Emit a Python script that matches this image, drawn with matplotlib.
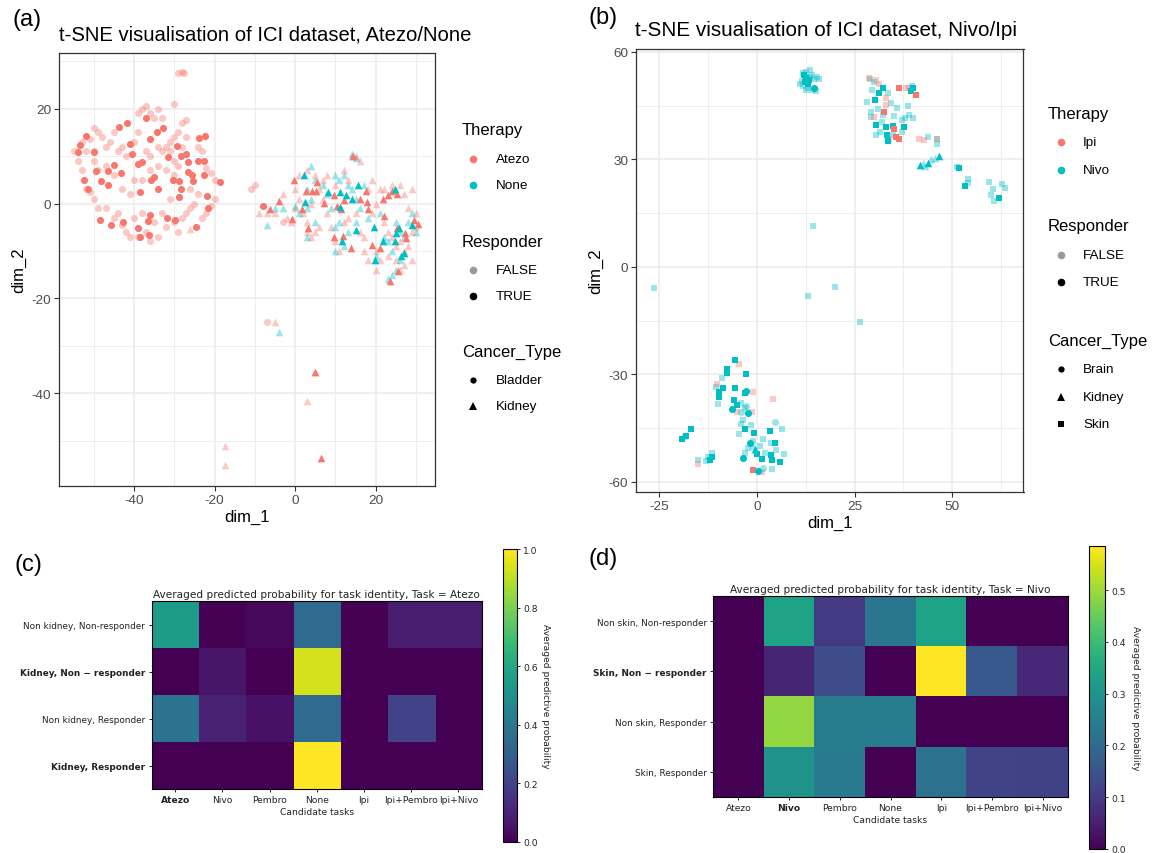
import numpy as np
import matplotlib
matplotlib.use("Agg")
import matplotlib.pyplot as plt
from matplotlib.lines import Line2D

plt.rcParams["axes.unicode_minus"] = False

W, H = 1156, 854
RED = "#F8766D"
CYAN = "#00BFC4"
FADE = 0.4
GG = "Liberation Sans"

# ---------------- panel (a): t-SNE Atezo/None ----------------
a_bladder_atezo_true = [
    (-51.9, 14.3), (-53.3, 12.3), (-53.9, 10.9), (-49.8, 10.9), (-52.4, 4.9), (-51.3, 3.1),
    (-49.4, 6.8), (-48.3, 4.7), (-46.5, 4.0), (-46.5, 6.8), (-44.9, 8.2), (-43.8, 16.1),
    (-41.7, 16.9), (-41.0, 12.5), (-40.5, 10.4), (-38.9, 8.4), (-38.0, 8.7), (-38.4, 2.4),
    (-36.1, 13.6), (-37.1, 18.1), (-35.7, 4.9), (-34.0, 3.0), (-34.3, 15.0), (-32.9, 15.8),
    (-31.6, 9.7), (-30.2, 4.9), (-29.4, 12.2), (-28.3, 10.1), (-27.0, 10.4), (-28.8, 4.7),
    (-28.7, 1.3), (-28.3, 3.0), (-26.5, 6.6), (-25.6, 6.1), (-26.5, 8.7), (-25.4, 4.7),
    (-24.0, 9.0), (-22.6, 9.0), (-23.8, 13.7), (-22.3, 14.3), (-21.9, 1.6), (-21.7, -1.0),
    (-18.7, 4.6), (-22.6, 5.9), (-24.7, -4.9), (-29.7, -3.5), (-31.8, -3.0), (-36.1, -2.5),
    (-36.6, -3.7), (-38.9, -5.2), (-36.3, -6.6), (-38.4, -7.0), (-45.8, -4.5), (-48.5, -3.5),
    (-42.6, -3.8), (-35.0, 5.6), (-43.3, 6.5), (-8.0, -0.5),
]
a_bladder_atezo_false = [
    (-55, 11), (-54, 9), (-53, 13), (-52, 11), (-51, 13.5), (-50, 16), (-49, 15), (-50, 9),
    (-50, 11), (-48, 14), (-47, 12), (-46, 13), (-45, 15), (-44, 11), (-43, 12), (-42, 10),
    (-40, 13), (-39, 19), (-38, 20), (-37, 20.5), (-36, 19), (-35, 18), (-34, 20), (-33, 18),
    (-39, 15), (-37, 11), (-36, 10), (-34, 12), (-33, 11), (-32, 12), (-31, 13), (-30, 14),
    (-29, 15), (-28, 17), (-27, 17.5), (-31, 11), (-30, 9), (-29, 8), (-28, 12), (-27, 14),
    (-24, 12), (-23, 11), (-22, 7.5), (-21, 6.5), (-20, 5), (-20, 1), (-21, -0.5), (-22, -2),
    (-23, -3), (-25, 0), (-26, -1), (-27, -2), (-28, -3), (-30, -4), (-31, 1), (-33, -2),
    (-35, -4), (-37, -6), (-39, -7), (-41, -7), (-42, -6), (-43, -4.5), (-44, -2), (-45, -3),
    (-47, -1), (-49, -1), (-50, 1), (-51, 2.5), (-52, 3), (-53, 7), (-49, 7), (-47, 8),
    (-45, 6), (-43, 3), (-41, 2), (-40, 5), (-38, 5), (-36, 7), (-34, 8), (-32, 7), (-30, 6),
    (-26, 3), (-24, 2), (-40, -3), (-38, -2), (-36, -8), (-34, -7), (-29, 27.5), (-28, 27.6),
    (-27.5, 27.4), (-30, 21), (-11, 3), (-10, 4), (-7, -25), (-3, -4), (-29, -6), (-32, -5),
]
a_kidney_atezo_true = [
    (-0.4, 4.9), (-3.9, 0.5), (-6.3, -1.2), (-0.8, -3.3), (1.7, -1.2), (2.7, 2.6), (4.2, 2.6),
    (5.4, 4.5), (5.1, 2.6), (3.3, -5.2), (7.2, 0.2), (9.7, 1.7), (10.4, -0.5), (11.3, -1.2),
    (12.0, 0.7), (9.7, -7.0), (11.8, -6.8), (13.9, -9.4), (14.3, 10.1), (16.0, 1.0),
    (17.8, 0.3), (18.0, -1.2), (17.5, 2.6), (19.0, -8.7), (21.0, -9.3), (21.7, 1.0),
    (23.0, 1.7), (22.1, -2.6), (24.0, 2.6), (25.3, 2.1), (25.3, -5.2), (27.3, -6.3),
    (29.4, -3.5), (30.4, -4.4), (25.6, -14.3), (23.5, -16.4), (27.6, -7.3), (5.0, -35.5),
    (6.5, -53.5),
]
a_kidney_atezo_false = [
    (-3, 2), (0, 3), (1, 6), (3, 7), (5, 6), (7, 5), (8, 6), (10, 4), (12, 7), (13, 5), (6, 3),
    (4, 0), (2, -2), (0, -1), (-2, -3), (-5, -2), (-7, -2), (3, -4), (5, -6), (3, -6), (8, -2),
    (9, -5), (10, -8), (12, -4), (13, -3), (15, -2), (16, -6), (17, -7), (18, 3), (19, -2),
    (20, 0), (21, 3), (22, -4), (23, -6), (24, -7), (25, -9), (26, -8), (27, -10), (28, -9),
    (29, -12), (27, -13), (25, -12), (23, -11), (21, -12), (20, -10), (26, 4), (27, 2),
    (28, -1), (29, -6), (30, -5), (30, -2), (29, 3), (24, 4), (22, 3), (19, 5), (14, 10),
    (15, 10), (16, 9), (17, -10), (26, -14), (-5, -25), (3, -41.5), (-17.5, -51),
    (-17.5, -55), (5, -35.5), (-26, -5.4), (-9, -2), (20, -14), (18, -12), (11, -10), (7, 1),
    (1, 1), (-1, -4), (4, -7), (6, -5),
]
a_kidney_none_true = [
    (2.2, 5.9), (2.4, 0.3), (8.2, 2.4), (11.1, 2.4), (12.5, 1.7), (14.0, 0.9), (15.5, 3.8),
    (11.1, -0.7), (15.0, -5.6), (11.6, -8.0), (19.8, -12.0), (19.6, -4.9), (21.7, -8.0),
    (24.7, -8.0), (24.7, 3.1), (25.8, -5.2), (26.2, -11.1), (27.1, -10.4), (29.0, -4.5),
    (25.0, -6.3),
]
a_kidney_none_false = [
    (-7, -4.5), (-5, -1), (-3, -1), (0, -0.5), (3, -1), (4, 1), (4, 8), (5, 5), (3, 3),
    (5, -4), (7, 4), (8, 2), (9, -1), (10, 6), (11, 5), (12, 6), (13, 4), (14, 3), (15, 1),
    (10, -5), (11, -4), (10, -10), (12, -9), (13, -6), (15, -4), (16, -1), (17, 4), (18, -3),
    (21, -2), (22, -7), (23, -8), (24, -10), (25, -14), (26, -12), (23, -16), (24, -15),
    (25, -4), (26, -6), (28, -4), (29, -2), (30, -6), (27, -7), (-4, -27), (14, 10.5),
    (15, 9.5), (20, -11), (3, -7), (1, -2),
]

# ---------------- panel (b): t-SNE Nivo/Ipi ----------------
b_nivo_skin_true = [
    (12.0, 53.5), (12.5, 52.6), (13.4, 52.1), (13.0, 51.0), (12.2, 51.5),
    (32.4, 49.8), (31.3, 48.6), (30.2, 46.5), (30.5, 39.5), (33.1, 39.0), (34.8, 39.2),
    (37.7, 39.0), (33.3, 36.9), (33.6, 35.0), (40.0, 50.0), (39.5, 49.0),
    (51.8, 27.6), (53.4, 22.6), (61.9, 19.2),
    (-5.6, -26.0), (-7.7, -28.5), (-7.7, -29.6), (-2.7, -30.0), (-8.8, -33.7), (-9.7, -35.0),
    (-9.7, -36.3), (-5.7, -33.7), (-6.0, -37.0), (-5.0, -38.4), (-3.1, -35.2), (-3.1, -45.3),
    (-0.8, -46.2), (3.3, -45.8), (4.6, -49.0), (3.5, -52.4), (3.9, -53.9), (6.0, -54.4),
    (1.4, -53.7), (0.0, -52.3), (-17.0, -45.3), (-18.2, -47.2), (-19.1, -47.9),
    (-11.6, -53.0), (-12.0, -54.0),
]
b_nivo_skin_false = [
    (11.5, 52), (12.5, 54.5), (13.5, 55), (14, 53.5), (14.5, 52.5), (15.5, 53), (16, 52.5),
    (11, 51), (11.8, 50.5), (13, 50), (14, 49.5), (15, 49), (12.5, 49.5), (13.5, 53), (11.8, 54),
    (28.1, 45.9), (29.5, 49.3), (29.3, 43.2), (29.1, 41.8), (30.5, 36.7), (31.4, 37.7),
    (32.4, 42.3), (34.3, 45.6), (36.0, 44.2), (38.6, 44.9), (39.0, 42.3), (37.1, 40.9),
    (37.1, 37.7), (34.8, 36.9), (39.8, 50.5), (43.8, 36.3), (46.1, 34.4), (46.1, 35.8),
    (30.0, 51.5), (31.0, 44.0), (33.5, 48.5), (35.0, 42.0), (29.0, 52.5), (32, 40.5),
    (38, 41.5), (40, 41.5),
    (54.2, 24.6), (59.4, 23.7), (60.6, 21.8), (60.8, 18.3), (62.7, 23.2), (63.6, 22.0),
    (51.3, 27.9), (54.0, 23.5), (60.0, 20.0),
    (14.4, 11.4), (13.0, -8.0), (19.9, -5.7), (26.4, -15.5), (-26.5, -5.8),
    (-10.0, -38.3), (-4.1, -43.9), (-3.6, -42.7), (6.3, -45.1), (7.0, -52.3), (3.5, -49.0),
    (0.7, -50.0), (-2.2, -50.4), (-15.1, -53.9), (-13.1, -54.1), (-11.4, -51.8),
    (-12.5, -53.0), (3.8, -56.3), (-4.5, -46.7), (1.6, -48.1), (2.0, -52.0), (-1.0, -48.5),
    (-3.0, -52.0), (-18.5, -47.5), (-10.5, -33.5), (-9.0, -31.0), (-4.0, -38.0),
    (-3.0, -39.5), (-1.5, -44.0), (5.0, -51.0),
]
b_ipi_skin_true = [
    (36.4, 49.8), (40.7, 47.9), (32.6, 43.2), (35.2, 38.6), (35.7, 36.3), (36.4, 35.6),
    (-0.9, -56.8),
]
b_ipi_skin_false = [
    (28.6, 52.6), (30.5, 52.1), (31.3, 50.9), (33.0, 47.0), (33.0, 45.1), (30.0, 41.8),
    (38.3, 49.8), (39.0, 50.0), (41.4, 35.8), (42.8, 35.3), (33.8, 35.8), (46.1, 35.8),
    (-4.7, -27.1), (-10.2, -32.7), (-5.0, -40.6), (-1.2, -40.6), (4.2, -36.9),
    (-15.0, -55.1), (1.3, -57.2), (-1.1, -34.9),
]
b_nivo_brain_true = [
    (14.6, 50.0), (-6.4, -39.6), (-2.2, -40.7), (-2.7, -34.6), (-1.7, -49.0), (-3.6, -53.2),
    (0.2, -56.9),
]
b_nivo_brain_false = [(-2.7, -38.8), (4.5, -43.2), (-4.0, -40.5), (1.5, -56.0)]
b_nivo_kidney_true = [(41.9, 28.5), (43.8, 29.1), (46.6, 30.9), (-0.6, -50.9)]
b_nivo_kidney_false = [(42.5, 29.0), (44.5, 30.0), (45.5, 30.5), (43.0, 28.2), (-1.0, -50.0)]

# ---------------- panels (c), (d): heatmaps ----------------
tasks = ["Atezo", "Nivo", "Pembro", "None", "Ipi", "Ipi+Pembro", "Ipi+Nivo"]
c_rows = ["Non kidney, Non-responder", "Kidney, Non \u2212 responder",
          "Non kidney, Responder", "Kidney, Responder"]
c_vals = [
    [0.55, 0.00, 0.02, 0.35, 0.00, 0.08, 0.08],
    [0.00, 0.06, 0.00, 0.93, 0.00, 0.00, 0.00],
    [0.38, 0.09, 0.05, 0.35, 0.00, 0.20, 0.00],
    [0.00, 0.00, 0.00, 1.00, 0.00, 0.00, 0.00],
]
d_rows = ["Non skin, Non-responder", "Skin, Non \u2212 responder",
          "Non skin, Responder", "Skin, Responder"]
d_vals = [
    [0.00, 0.34, 0.10, 0.23, 0.34, 0.00, 0.00],
    [0.00, 0.06, 0.135, 0.00, 0.585, 0.16, 0.065],
    [0.00, 0.49, 0.245, 0.245, 0.00, 0.00, 0.00],
    [0.00, 0.30, 0.24, 0.00, 0.22, 0.12, 0.115],
]

fig = plt.figure(figsize=(W / 100, H / 100), dpi=100)


def px(l, t, r, b):
    return [l / W, 1 - b / H, (r - l) / W, (b - t) / H]


def ftext(x, y, s, **kw):
    return fig.text(x / W, 1 - y / H, s, **kw)


def tsne_axes(box, xlim, ylim, xmaj, xmin, ymaj, ymin):
    ax = fig.add_axes(px(*box))
    ax.set_xlim(xlim)
    ax.set_ylim(ylim)
    ax.set_xticks(xmaj)
    ax.set_xticks(xmin, minor=True)
    ax.set_yticks(ymaj)
    ax.set_yticks(ymin, minor=True)
    ax.grid(which="major", color="#EBEBEB", lw=1.1)
    ax.grid(which="minor", color="#EBEBEB", lw=0.6)
    ax.set_axisbelow(True)
    ax.tick_params(which="minor", length=0)
    ax.tick_params(which="major", length=3.5, width=0.8, color="#333333",
                   labelcolor="#4D4D4D", labelsize=9.7, pad=2)
    for lab in ax.get_xticklabels() + ax.get_yticklabels():
        lab.set_family(GG)
    for s in ax.spines.values():
        s.set_color("#333333")
        s.set_linewidth(0.9)
    return ax


def pts(ax, data, color, alpha, marker, size=26):
    xs = [p[0] for p in data]
    ys = [p[1] for p in data]
    ax.scatter(xs, ys, s=size, c=color, alpha=alpha, marker=marker, linewidths=0)


def legend_block(x, y_title, title, entries, key_x, label_x):
    ftext(x, y_title, title, fontsize=12, family=GG, va="center", ha="left")
    for y, label, marker, color, alpha, ms in entries:
        fig.add_artist(Line2D([key_x / W], [1 - y / H], marker=marker, color=color,
                              alpha=alpha, markersize=ms, linestyle="none",
                              markeredgewidth=0, transform=fig.transFigure))
        ftext(label_x, y, label, fontsize=9.7, family=GG, va="center", ha="left")


# ---- (a) ----
ax_a = tsne_axes((59, 54, 435, 487), (-58.6, 34.7), (-59.5, 31.7),
                 [-40, -20, 0, 20], [-50, -30, -10, 10, 30],
                 [-40, -20, 0, 20], [-50, -30, -10, 10, 30])
pts(ax_a, a_bladder_atezo_false, RED, FADE, "o")
pts(ax_a, a_kidney_atezo_false, RED, FADE, "^", 30)
pts(ax_a, a_kidney_none_false, CYAN, FADE, "^", 30)
pts(ax_a, a_bladder_atezo_true, RED, 1, "o")
pts(ax_a, a_kidney_atezo_true, RED, 1, "^", 30)
pts(ax_a, a_kidney_none_true, CYAN, 1, "^", 30)
ax_a.set_xlabel("dim_1", fontsize=12, family=GG, labelpad=2)
ax_a.set_ylabel("dim_2", fontsize=12, family=GG, labelpad=4)
ftext(59, 35, "t-SNE visualisation of ICI dataset, Atezo/None", fontsize=14.6, family=GG,
      va="center")
ftext(13, 20, "(a)", fontsize=17, family=GG, va="center")

legend_block(462, 131, "Therapy",
             [(160, "Atezo", "o", RED, 1, 5.5), (186, "None", "o", CYAN, 1, 5.5)], 473, 496)
legend_block(462, 242, "Responder",
             [(271, "FALSE", "o", "black", FADE, 5.5), (297, "TRUE", "o", "black", 1, 5.5)],
             473, 496)
legend_block(462, 352, "Cancer_Type",
             [(381, "Bladder", "o", "black", 1, 4.5), (407, "Kidney", "^", "black", 1, 5.5)],
             473, 496)

# ---- (b) ----
ax_b = tsne_axes((636, 50, 1023.5, 493), (-31, 68.3), (-62.8, 60.8),
                 [-25, 0, 25, 50], [-12.5, 12.5, 37.5, 62.5],
                 [-60, -30, 0, 30, 60], [-45, -15, 15, 45])
pts(ax_b, b_nivo_skin_false, CYAN, FADE, "s", 22)
pts(ax_b, b_ipi_skin_false, RED, FADE, "s", 22)
pts(ax_b, b_nivo_brain_false, CYAN, FADE, "o")
pts(ax_b, b_nivo_kidney_false, CYAN, FADE, "^", 30)
pts(ax_b, b_nivo_skin_true, CYAN, 1, "s", 22)
pts(ax_b, b_ipi_skin_true, RED, 1, "s", 22)
pts(ax_b, b_nivo_brain_true, CYAN, 1, "o")
pts(ax_b, b_nivo_kidney_true, CYAN, 1, "^", 30)
ax_b.set_xlabel("dim_1", fontsize=12, family=GG, labelpad=2)
ax_b.set_ylabel("dim_2", fontsize=12, family=GG, labelpad=4)
ftext(635, 30, "t-SNE visualisation of ICI dataset, Nivo/Ipi", fontsize=14.9, family=GG,
      va="center")
ftext(589, 18, "(b)", fontsize=17, family=GG, va="center")

legend_block(1048, 114, "Therapy",
             [(143, "Ipi", "o", RED, 1, 5.5), (171, "Nivo", "o", CYAN, 1, 5.5)], 1061, 1083)
legend_block(1048, 227, "Responder",
             [(256, "FALSE", "o", "black", FADE, 5.5), (283, "TRUE", "o", "black", 1, 5.5)],
             1061, 1083)
legend_block(1048, 341, "Cancer_Type",
             [(370, "Brain", "o", "black", 1, 4.5), (398, "Kidney", "^", "black", 1, 5.5),
              (425, "Skin", "s", "black", 1, 4.5)], 1061, 1083)


# ---- heatmaps ----
def heat(box, cbox, vals, rows, title, bold_rows, bold_cols, label_x):
    ax = fig.add_axes(px(*box))
    im = ax.imshow(np.array(vals), cmap="viridis", aspect="auto")
    ax.set_xticks(range(len(tasks)))
    ax.set_xticklabels(tasks, fontsize=6.6, color="#222222")
    ax.set_yticks(range(len(rows)))
    ax.set_yticklabels(rows, fontsize=6.4, color="#222222")
    for i in bold_rows:
        ax.get_yticklabels()[i].set_fontweight("bold")
    for i in bold_cols:
        ax.get_xticklabels()[i].set_fontweight("bold")
    ax.tick_params(length=2.5, width=0.6, pad=2)
    ax.set_xlabel("Candidate tasks", fontsize=6.6, labelpad=2, color="#222222")
    ax.set_title(title, fontsize=7.6, pad=3, color="#222222")
    for s in ax.spines.values():
        s.set_linewidth(0.8)
    cax = fig.add_axes(px(*cbox))
    fig.colorbar(im, cax=cax)
    cax.tick_params(labelsize=6.6, length=2.5, width=0.6, pad=2, labelcolor="#222222")
    for s in cax.spines.values():
        s.set_linewidth(0.8)
    cax.text(label_x, 0.5, "Averaged predictive probability", rotation=270, fontsize=6.6,
             ha="center", va="center", transform=cax.transAxes, color="#222222")
    return ax


heat((151.5, 602, 482, 790), (502.5, 550, 517, 843), c_vals, c_rows,
     "Averaged predicted probability for task identity, Task = Atezo", [1, 3], [0], 3.0)
ftext(15, 565, "(c)", fontsize=17, family=GG, va="center")

heat((713, 597, 1068, 798), (1089, 547, 1105, 850), d_vals, d_rows,
     "Averaged predicted probability for task identity, Task = Nivo", [1], [1], 2.9)
ftext(589, 559, "(d)", fontsize=17, family=GG, va="center")

fig.savefig("out.png", dpi=100)
